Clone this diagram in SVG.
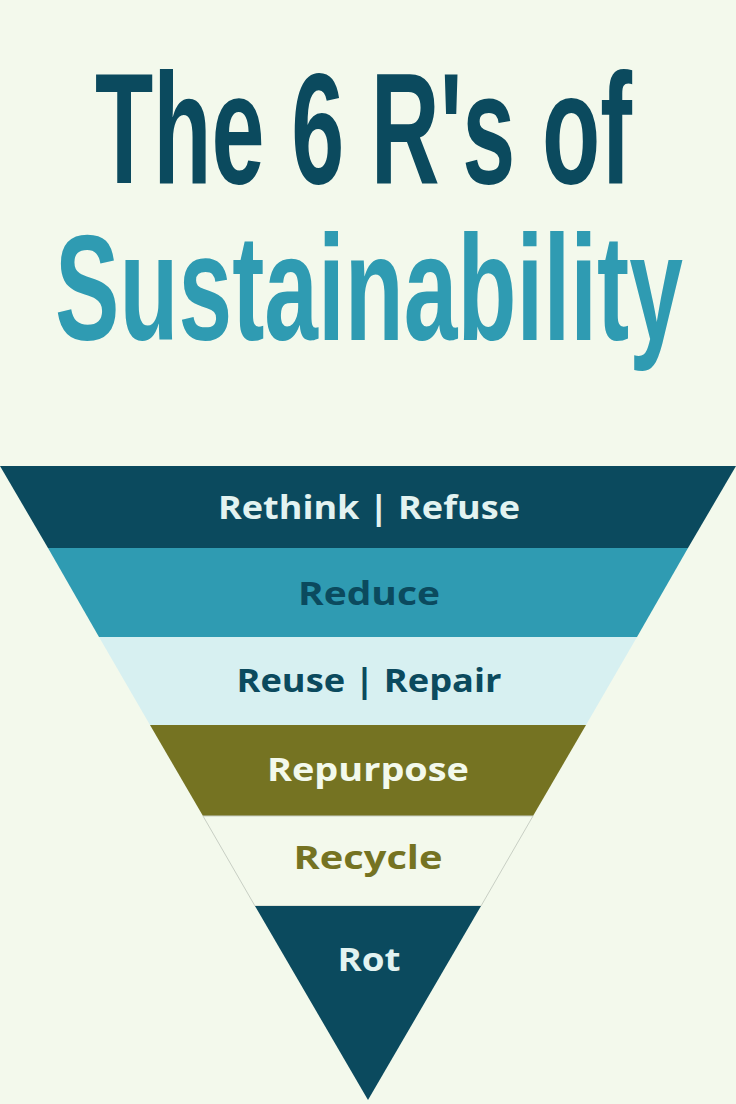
<svg xmlns="http://www.w3.org/2000/svg" width="736" height="1104" viewBox="0 0 736 1104">
<style>
.t{font-family:"Liberation Sans",Arial,sans-serif;font-weight:bold}
.b{font-family:"Open Sans",Lato,sans-serif;font-weight:bold;font-size:33px;text-anchor:middle}
</style>
<rect width="736" height="1104" fill="#f3f9ec"/>
<g id="title">
<text class="t" x="95" y="183" font-size="158" fill="#0b4a5e" textLength="537" lengthAdjust="spacingAndGlyphs">The 6 R's of</text>
<text class="t" x="55" y="340" font-size="150" fill="#2f9bb2" textLength="628" lengthAdjust="spacingAndGlyphs">Sustainability</text>
</g>
<g id="rethink"><polygon points="0,466 736,466 688,548 48,548" fill="#0b4a5e"/><text class="b" x="369" y="519" fill="#e3f3f1" textLength="302" lengthAdjust="spacingAndGlyphs">Rethink | Refuse</text></g>
<g id="reduce"><polygon points="48,548 688,548 637,637 99,637" fill="#2f9bb2"/><text class="b" x="369" y="605" fill="#0b4a5e" textLength="142" lengthAdjust="spacingAndGlyphs">Reduce</text></g>
<g id="reuse"><polygon points="99,637 637,637 586,725 150,725" fill="#d7f0f1"/><text class="b" x="369" y="692" fill="#0b4a5e" textLength="265" lengthAdjust="spacingAndGlyphs">Reuse | Repair</text></g>
<g id="repurpose"><polygon points="150,725 586,725 533,816 203,816" fill="#757322"/><text class="b" x="368" y="781" fill="#f3f9ec" textLength="202" lengthAdjust="spacingAndGlyphs">Repurpose</text></g>
<g id="recycle"><polygon points="203,816 533,816 481,906 255,906" fill="#f3f9ec" stroke="#c8cfc4" stroke-width="1"/><text class="b" x="368" y="869" fill="#757322" textLength="149" lengthAdjust="spacingAndGlyphs">Recycle</text></g>
<g id="rot"><polygon points="255,906 481,906 368,1100" fill="#0b4a5e"/><text class="b" x="369" y="971" fill="#e3f3f1" textLength="63" lengthAdjust="spacingAndGlyphs">Rot</text></g>
</svg>
